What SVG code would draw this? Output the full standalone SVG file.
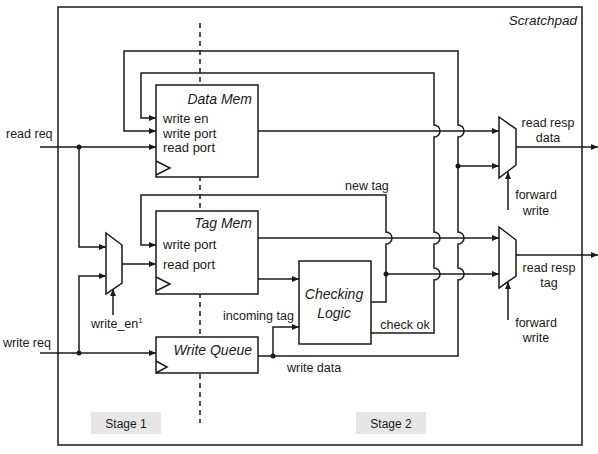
<svg xmlns="http://www.w3.org/2000/svg" width="598" height="454" viewBox="0 0 598 454">
<defs>
<style>
.w{fill:none;stroke:#1a1a1a;stroke-width:1.5}
.box{fill:#fff;stroke:#1a1a1a;stroke-width:1.5}
.dot{fill:#1a1a1a}
text{font-family:"Liberation Sans",Arial,sans-serif;fill:#1a1a1a;font-size:12.5px}
.p{font-size:13px}
.t{font-style:italic;font-size:14px}
.c{text-anchor:middle}
.e{text-anchor:end}
.stage{fill:#e6e6e6}
</style>
<marker id="ar" markerUnits="userSpaceOnUse" markerWidth="7" markerHeight="6" refX="7" refY="3" orient="auto">
<path d="M0,0 L7,3 L0,6 z" fill="#1a1a1a"/>
</marker>
</defs>
<rect width="598" height="454" fill="#fff"/>
<g id="scratchpad">
<rect x="58" y="7" width="524" height="438" class="w"/>
<text x="577" y="25" class="t e" style="font-size:13.5px">Scratchpad</text>
</g>
<path d="M200,23 V423" class="w" stroke-dasharray="5,4"/>
<g id="stage1"><rect x="91" y="412" width="70" height="22" class="stage"/><text x="126" y="427.5" class="c" style="font-size:12px">Stage 1</text></g>
<g id="stage2"><rect x="356" y="412" width="70" height="22" class="stage"/><text x="391" y="427.5" class="c" style="font-size:12px">Stage 2</text></g>
<g id="connectors">
<path d="M40,147 H156" class="w" marker-end="url(#ar)"/>
<path d="M79,147 V247 H106" class="w" marker-end="url(#ar)"/>
<path d="M40,353 H156" class="w" marker-end="url(#ar)"/>
<path d="M79,353 V276 H106" class="w" marker-end="url(#ar)"/>
<path d="M122,264 H156" class="w" marker-end="url(#ar)"/>
<path d="M113,315 V289" class="w" marker-end="url(#ar)"/>
<path d="M371,333 H434 V280 A6,6 0 0 0 434,268 V244 A6,6 0 0 0 434,232 V137 A6,6 0 0 0 434,125 V73 H141 V118 H156" class="w" marker-end="url(#ar)"/>
<path d="M258,356 H458 V280 A6,6 0 0 0 458,268 V244 A6,6 0 0 0 458,232 V137 A6,6 0 0 0 458,125 V51 H124 V131 H156" class="w" marker-end="url(#ar)"/>
<path d="M458,166 H499" class="w" marker-end="url(#ar)"/>
<path d="M258,131 H499" class="w" marker-end="url(#ar)"/>
<path d="M258,238 H499" class="w" marker-end="url(#ar)"/>
<path d="M258,279 H299" class="w" marker-end="url(#ar)"/>
<path d="M371,302 H386 V244 A6,6 0 0 0 386,232 V195 H141 V245 H156" class="w" marker-end="url(#ar)"/>
<path d="M386,274 H499" class="w" marker-end="url(#ar)"/>
<path d="M273,356 V327 H299" class="w" marker-end="url(#ar)"/>
<path d="M516,147 H598" class="w" marker-end="url(#ar)"/>
<path d="M516,255 H598" class="w" marker-end="url(#ar)"/>
<path d="M508,210 V172" class="w" marker-end="url(#ar)"/>
<path d="M508,320 V282" class="w" marker-end="url(#ar)"/>
<circle cx="79" cy="147" r="2.5" class="dot"/>
<circle cx="79" cy="353" r="2.5" class="dot"/>
<circle cx="458" cy="166" r="2.5" class="dot"/>
<circle cx="386" cy="274" r="2.5" class="dot"/>
<circle cx="273" cy="356" r="2.5" class="dot"/>
</g>
<g id="data-mem">
<rect x="156" y="85" width="102" height="92" class="box"/>
<path d="M156,161 L170,168 L156,175" class="w"/>
<text x="252" y="104" class="t e">Data Mem</text>
<text x="163" y="122.5" class="p">write en</text>
<text x="163" y="137.5" class="p">write port</text>
<text x="163" y="151.5" class="p">read port</text>
</g>
<g id="tag-mem">
<rect x="156" y="211" width="102" height="83" class="box"/>
<path d="M156,277 L170,284 L156,291" class="w"/>
<text x="252" y="228" class="t e">Tag Mem</text>
<text x="163" y="248.5" class="p">write port</text>
<text x="163" y="268.5" class="p">read port</text>
</g>
<g id="write-queue">
<rect x="156" y="337" width="102" height="36" class="box"/>
<path d="M156,361 L167,367 L156,373" class="w"/>
<text x="252" y="355" class="t e">Write Queue</text>
</g>
<g id="checking-logic">
<rect x="299" y="261" width="72" height="83" class="box"/>
<text x="334" y="299" class="t c">Checking</text>
<text x="334" y="318" class="t c">Logic</text>
</g>
<g id="mux-in">
<path d="M106,233 L122,245 L122,283 L106,294 Z" class="box"/>
</g>
<g id="mux-data">
<path d="M499,117 L516,129 L516,165 L499,178 Z" class="box"/>
</g>
<g id="mux-tag">
<path d="M499,227 L516,240 L516,276 L499,288 Z" class="box"/>
</g>
<g id="labels">
<text x="6" y="137.5">read req</text>
<text x="3" y="346.5">write req</text>
<text x="91" y="328">write_en<tspan dy="-5" style="font-size:8px">1</tspan></text>
<text x="345" y="190">new tag</text>
<text x="223" y="320">incoming tag</text>
<text x="405" y="328.5" class="c">check ok</text>
<text x="287" y="372">write data</text>
<text x="548" y="126.5" class="c">read resp</text>
<text x="548" y="141.5" class="c">data</text>
<text x="549" y="271.5" class="c">read resp</text>
<text x="549" y="286.5" class="c">tag</text>
<text x="536" y="198.5" class="c">forward</text>
<text x="536" y="214.5" class="c">write</text>
<text x="536" y="326.5" class="c">forward</text>
<text x="536" y="341.5" class="c">write</text>
</g>
</svg>
